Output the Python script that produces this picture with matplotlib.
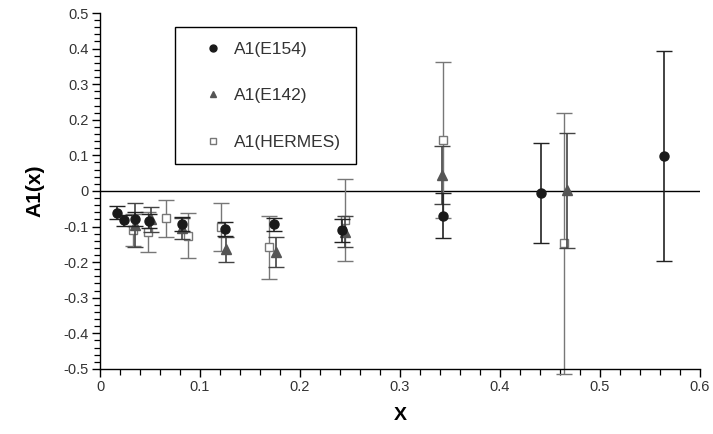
import numpy as np
import matplotlib.pyplot as plt
from matplotlib.lines import Line2D
from matplotlib.ticker import MultipleLocator

plt.rcParams['font.family'] = ['Liberation Sans', 'DejaVu Sans']

# E154
x_e154 = [0.017, 0.024, 0.035, 0.049, 0.082, 0.125, 0.174, 0.242, 0.343, 0.441, 0.564]
y_e154 = [-0.061, -0.083, -0.078, -0.085, -0.093, -0.107, -0.094, -0.111, -0.070, -0.006, 0.098]
e_e154 = [0.019, 0.015, 0.020, 0.020, 0.020, 0.020, 0.018, 0.032, 0.063, 0.141, 0.295]

# E142
x_e142 = [0.035, 0.051, 0.082, 0.126, 0.176, 0.245, 0.342, 0.467]
y_e142 = [-0.095, -0.080, -0.105, -0.164, -0.172, -0.114, 0.045, 0.002]
e_e142 = [0.062, 0.036, 0.030, 0.035, 0.042, 0.043, 0.082, 0.162]

# HERMES
x_her = [0.033, 0.048, 0.066, 0.088, 0.121, 0.169, 0.245, 0.343, 0.464]
y_her = [-0.110, -0.116, -0.077, -0.126, -0.101, -0.158, -0.081, 0.143, -0.147]
e_her = [0.046, 0.056, 0.052, 0.063, 0.067, 0.088, 0.115, 0.220, 0.367]

fig = plt.figure(figsize=(7.13, 4.34), dpi=100)
ax = fig.add_axes([0.1403, 0.150, 0.8415, 0.820])

ax.axhline(0, color='black', lw=1.0, zorder=1)

ax.errorbar(x_her, y_her, yerr=e_her, fmt='s', mfc='white', mec='#777777', mew=1.0,
            ms=6, ecolor='#777777', elinewidth=1.0, capsize=6, capthick=1.0,
            clip_on=False, zorder=2)
ax.errorbar(x_e142, y_e142, yerr=e_e142, fmt='^', color='#555555', ms=6.5,
            ecolor='#444444', elinewidth=1.2, capsize=6, capthick=1.0,
            clip_on=False, zorder=3)
ax.errorbar(x_e154, y_e154, yerr=e_e154, fmt='o', color='#1a1a1a', ms=6.5,
            ecolor='#222222', elinewidth=1.2, capsize=6, capthick=1.0,
            clip_on=False, zorder=4)

ax.set_xlim(0, 0.6)
ax.set_ylim(-0.5, 0.5)
ax.xaxis.set_minor_locator(MultipleLocator(0.02))
ax.yaxis.set_minor_locator(MultipleLocator(0.02))
ax.set_xticks(np.arange(0, 0.61, 0.1))
ax.set_xticklabels(['0', '0.1', '0.2', '0.3', '0.4', '0.5', '0.6'])
ax.set_yticks(np.arange(-0.5, 0.51, 0.1))
ax.set_yticklabels(['-0.5', '-0.4', '-0.3', '-0.2', '-0.1', '0',
                    '0.1', '0.2', '0.3', '0.4', '0.5'])

for s in ['top', 'right']:
    ax.spines[s].set_visible(False)
ax.spines['left'].set_linewidth(1.0)
ax.spines['bottom'].set_linewidth(1.0)
ax.tick_params(which='major', direction='out', length=6, width=1.0,
               labelsize=10.5, labelcolor='#333333', pad=2)
ax.tick_params(which='minor', direction='out', length=4, width=0.9)

ax.set_xlabel('X', fontsize=14, fontweight='bold', labelpad=9)
ax.set_ylabel('A1(x)', fontsize=15, fontweight='bold', labelpad=14)

handles = [
    Line2D([], [], ls='none', marker='o', color='#1a1a1a', ms=5),
    Line2D([], [], ls='none', marker='^', color='#555555', ms=5),
    Line2D([], [], ls='none', marker='s', mfc='white', mec='#777777', ms=5),
]
labels = ['A1(E154)', 'A1(E142)', 'A1(HERMES)']
leg = ax.legend(handles, labels, loc='upper left', bbox_to_anchor=(0.125, 0.961),
                fontsize=12.5, labelspacing=1.8, borderpad=0.85, handlelength=2.7,
                handletextpad=-0.15, borderaxespad=0, fancybox=False,
                edgecolor='black', framealpha=1)
leg.get_frame().set_linewidth(1.0)
for t in leg.get_texts():
    t.set_color('#333333')

fig.savefig('out.png', dpi=100)
